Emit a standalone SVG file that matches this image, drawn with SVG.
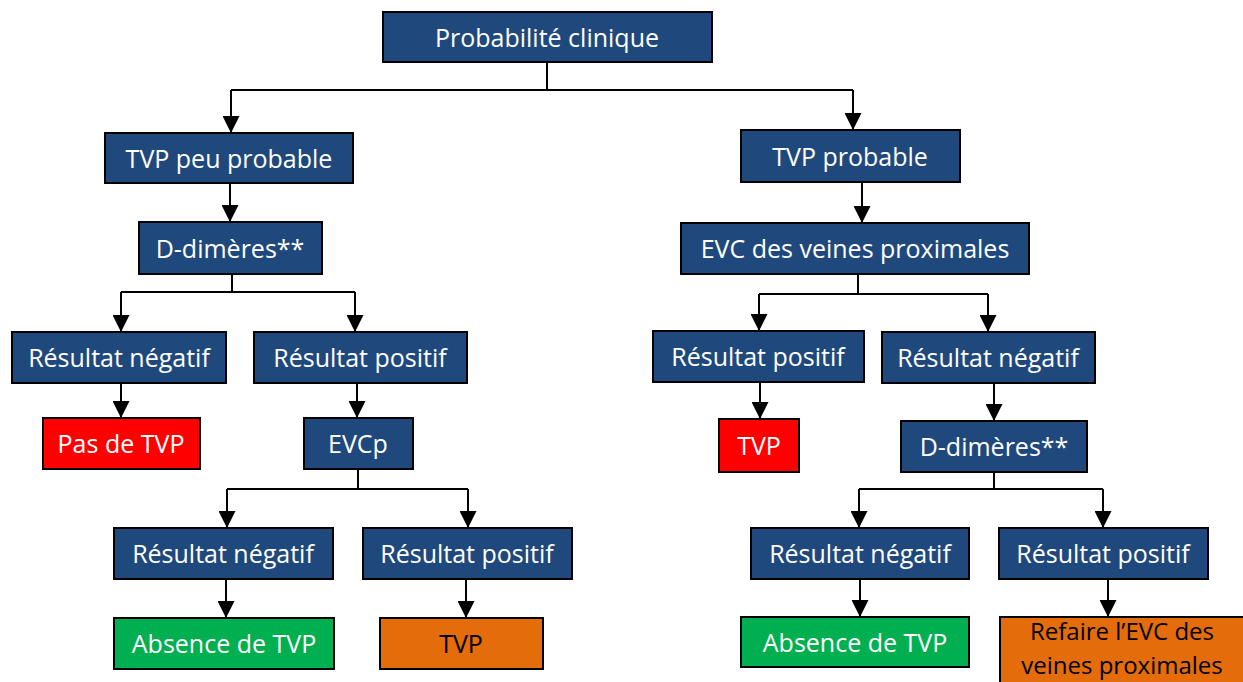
<svg xmlns="http://www.w3.org/2000/svg" width="1243" height="682" viewBox="0 0 1243 682">
<defs>
<marker id="arr" markerUnits="userSpaceOnUse" markerWidth="17" markerHeight="17" viewBox="0 0 17 17" refX="17" refY="8.5" orient="auto">
<path d="M0,0 L17,8.5 L0,17 Z" fill="#000"/>
</marker>
<style>
.b rect{fill:#1F497D;stroke:#000;stroke-width:2}
.r rect{fill:#FF0000;stroke:#000;stroke-width:2}
.g rect{fill:#00B050;stroke:#000;stroke-width:2}
.o rect{fill:#E46C0A;stroke:#000;stroke-width:2}
text{font-family:"Open Sans","Noto Sans",sans-serif;font-size:25px;fill:#fff;text-anchor:middle}
.o text{fill:#000}
.c path{fill:none;stroke:#000;stroke-width:2}
.c .a{marker-end:url(#arr)}
</style>
</defs>
<rect width="1243" height="682" fill="#fff"/>
<g class="c" id="connectors">
<path d="M547 62 V90 M231 90 H853"/>
<path class="a" d="M231 90 V133"/>
<path class="a" d="M853 90 V130"/>
<path class="a" d="M230 183 V222"/>
<path d="M232 274 V292 M121 292 H355"/>
<path class="a" d="M121 292 V332"/>
<path class="a" d="M355 292 V332"/>
<path class="a" d="M121 383 V418"/>
<path class="a" d="M357 383 V418"/>
<path d="M358 469 V489 M227 489 H468"/>
<path class="a" d="M227 489 V528"/>
<path class="a" d="M468 489 V528"/>
<path class="a" d="M226 579 V618"/>
<path class="a" d="M466 579 V618"/>
<path class="a" d="M862 182 V223"/>
<path d="M858 274 V294 M759 294 H988"/>
<path class="a" d="M759 294 V331"/>
<path class="a" d="M988 294 V332"/>
<path class="a" d="M760 382 V419"/>
<path class="a" d="M994 383 V421"/>
<path d="M994 472 V489 M859 489 H1103"/>
<path class="a" d="M859 489 V528"/>
<path class="a" d="M1103 489 V528"/>
<path class="a" d="M860 579 V617"/>
<path class="a" d="M1108 579 V617"/>
</g>
<g id="n1" class="b"><rect x="383" y="12" width="329" height="50"/><text x="547" y="47">Probabilité clinique</text></g>
<g id="n2" class="b"><rect x="105" y="133" width="248" height="50"/><text x="229" y="168">TVP peu probable</text></g>
<g id="n3" class="b"><rect x="139" y="222" width="183" height="52"/><text x="230" y="258">D-dimères**</text></g>
<g id="n4" class="b"><rect x="12" y="332" width="214" height="51"/><text x="119" y="367">Résultat négatif</text></g>
<g id="n5" class="b"><rect x="254" y="332" width="213" height="51"/><text x="360" y="367">Résultat positif</text></g>
<g id="n6" class="r"><rect x="43" y="418" width="157" height="51"/><text x="121" y="453">Pas de TVP</text></g>
<g id="n7" class="b"><rect x="304" y="418" width="109" height="51"/><text x="358" y="453">EVCp</text></g>
<g id="n8" class="b"><rect x="114" y="528" width="219" height="51"/><text x="223" y="563">Résultat négatif</text></g>
<g id="n9" class="b"><rect x="363" y="528" width="209" height="51"/><text x="467" y="563">Résultat positif</text></g>
<g id="n10" class="g"><rect x="114" y="618" width="220" height="51"/><text x="224" y="653">Absence de TVP</text></g>
<g id="n11" class="o"><rect x="380" y="618" width="163" height="51"/><text x="461" y="653">TVP</text></g>
<g id="n12" class="b"><rect x="741" y="130" width="219" height="52"/><text x="850" y="166">TVP probable</text></g>
<g id="n13" class="b"><rect x="681" y="223" width="348" height="51"/><text x="855" y="258">EVC des veines proximales</text></g>
<g id="n14" class="b"><rect x="653" y="331" width="211" height="51"/><text x="758" y="366">Résultat positif</text></g>
<g id="n15" class="b"><rect x="882" y="332" width="213" height="51"/><text x="988" y="367">Résultat négatif</text></g>
<g id="n16" class="r"><rect x="719" y="419" width="80" height="53"/><text x="759" y="455">TVP</text></g>
<g id="n17" class="b"><rect x="901" y="421" width="186" height="51"/><text x="994" y="456">D-dimères**</text></g>
<g id="n18" class="b"><rect x="751" y="528" width="218" height="51"/><text x="860" y="563">Résultat négatif</text></g>
<g id="n19" class="b"><rect x="999" y="528" width="209" height="51"/><text x="1103" y="563">Résultat positif</text></g>
<g id="n20" class="g"><rect x="741" y="617" width="228" height="50"/><text x="855" y="652">Absence de TVP</text></g>
<g id="n21" class="o"><rect x="1000" y="617" width="250" height="75"/><text x="1122" y="640" style="font-size:24px">Refaire l’EVC des</text><text x="1122" y="674" style="font-size:24px">veines proximales</text></g>
</svg>
